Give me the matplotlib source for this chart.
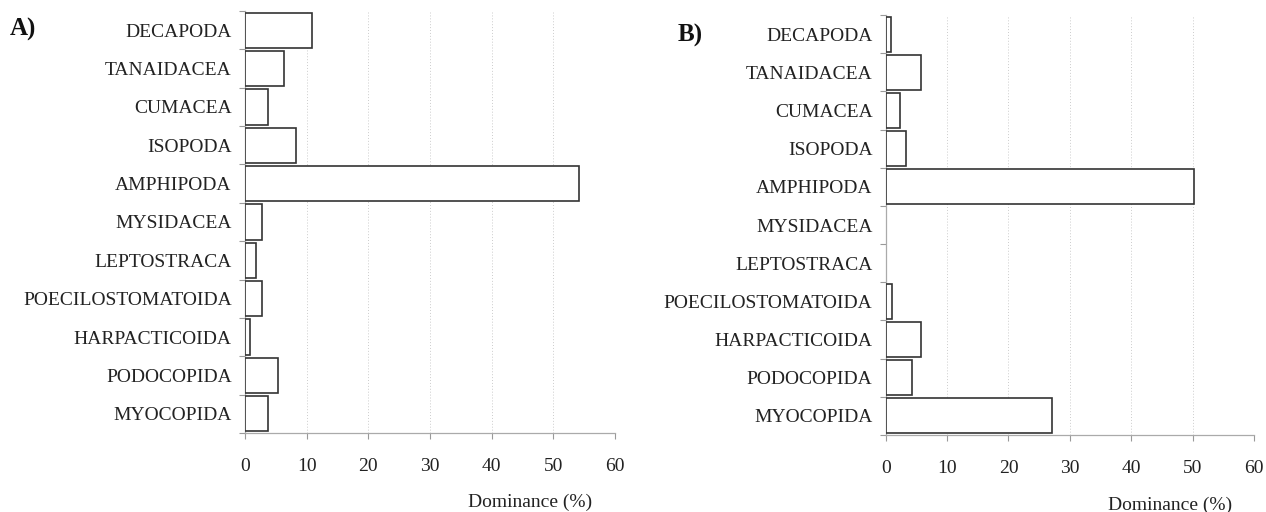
import matplotlib
matplotlib.use("Agg")
import matplotlib.pyplot as plt
import numpy as np

categories = ["DECAPODA", "TANAIDACEA", "CUMACEA", "ISOPODA", "AMPHIPODA",
              "MYSIDACEA", "LEPTOSTRACA", "POECILOSTOMATOIDA", "HARPACTICOIDA",
              "PODOCOPIDA", "MYOCOPIDA"]
values_a = [10.9, 6.4, 3.7, 8.3, 54.1, 2.75, 1.8, 2.75, 0.85, 5.3, 3.7]
values_b = [0.8, 5.8, 2.3, 3.3, 50.2, 0.0, 0.0, 1.05, 5.8, 4.3, 27.1]
x_ticks = [0, 10, 20, 30, 40, 50, 60]
panel_labels = ["A)", "B)"]
x_label = "Dominance (%)"

plt.rcParams['font.family'] = ['Liberation Serif', 'DejaVu Serif']

fig = plt.figure(figsize=(12.66, 5.12), dpi=100)

W, H = 1266, 512
def rect(l, r, t, b):
    return [l / W, 1 - b / H, (r - l) / W, (b - t) / H]

axes_rects = [rect(245, 615, 11, 433), rect(885.7, 1254, 15, 435)]
label_pos = [(10, 36), (678, 42)]
xlabel_pos = [(530, 502), (1170, 505)]

for i, (vals, r) in enumerate(zip([values_a, values_b], axes_rects)):
    ax = fig.add_axes(r)
    y = np.arange(len(categories))
    lws = [1.2 if v > 0 else 0.0 for v in vals]
    ax.barh(y, vals, height=0.92, color='white', edgecolor='#333333',
            linewidth=lws, zorder=3)
    ax.set_ylim(len(categories) - 0.5, -0.5)
    ax.set_xlim(0, 60)
    ax.set_xticks(x_ticks)
    ax.set_xticklabels([str(t) for t in x_ticks])
    ax.set_yticks(y)
    ax.set_yticklabels(categories)
    ax.set_yticks(np.arange(len(categories) + 1) - 0.5, minor=True)
    ax.tick_params(axis='y', which='major', length=0, pad=9.5,
                   labelsize=14, labelcolor='#222222')
    ax.tick_params(axis='y', which='minor', length=4, color='#999999',
                   width=0.8, direction='out')
    ax.tick_params(axis='x', which='major', length=4, color='#999999',
                   width=0.8, direction='out', pad=14, labelsize=14,
                   labelcolor='#222222')
    for s in ['top', 'right']:
        ax.spines[s].set_visible(False)
    for s in ['left', 'bottom']:
        ax.spines[s].set_color('#aaaaaa')
        ax.spines[s].set_linewidth(0.9)
    for t in x_ticks[1:]:
        ax.axvline(t, color='#cccccc', linestyle=(0, (1, 2)), linewidth=0.7,
                   zorder=1)
    lx, ly = label_pos[i]
    fig.text(lx / W, 1 - ly / H, panel_labels[i], fontsize=18,
             fontweight='bold', ha='left', va='baseline', color='#111111')
    tx, tyy = xlabel_pos[i]
    fig.text(tx / W, 1 - tyy / H, x_label, fontsize=14, ha='center',
             va='center', color='#222222')

fig.savefig("out.png", dpi=100)
